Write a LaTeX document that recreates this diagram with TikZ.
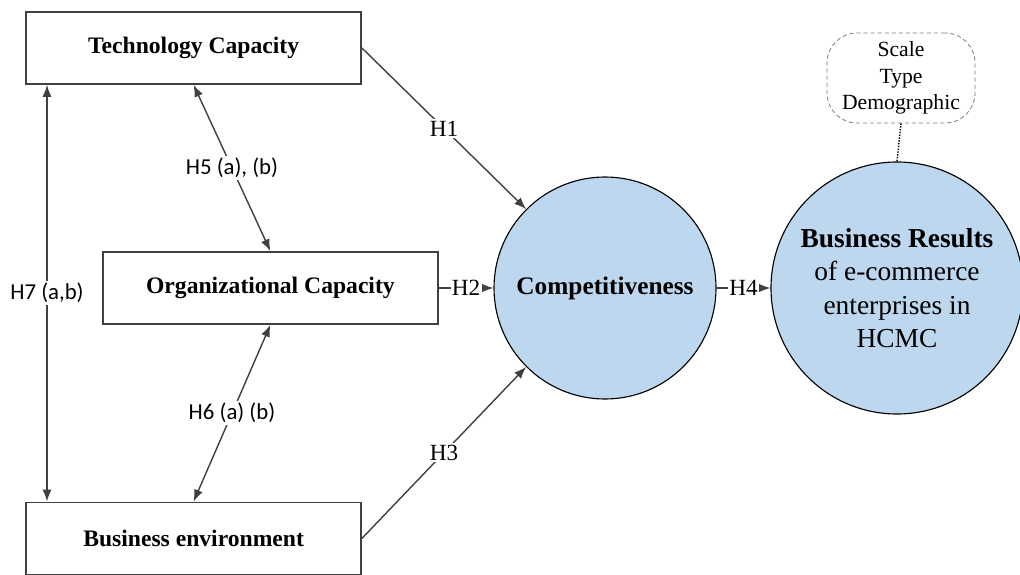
\documentclass[tikz,border=0pt]{standalone}
\usepackage{fontspec}
\setmainfont{Liberation Serif}
\newfontfamily\hfont{Carlito}
\usetikzlibrary{calc,positioning,arrows.meta}
\definecolor{bubble}{RGB}{189,215,238}
\definecolor{frame}{RGB}{64,64,64}

\begin{document}
\begin{tikzpicture}[
	factor/.style={draw=frame, line width=1.2pt, minimum width=8.375cm, minimum height=1.8cm, font=\fontsize{16.8}{20}\selectfont\bfseries},
	latent/.style={circle, draw, fill=bubble, line width=0.8pt, inner sep=0pt, align=center},
	link/.style={-{Latex[length=8.5pt,width=6.5pt]}, draw=frame, line width=1pt},
	both/.style={{Latex[length=8.5pt,width=6.5pt]}-{Latex[length=8.5pt,width=6.5pt]}},
	hyp/.style={fill=white, inner sep=1pt, font=\fontsize{16.5}{20}\selectfont},
	hypsans/.style={fill=white, inner sep=1.5pt, font=\hfont\fontsize{16.2}{20}\selectfont}
]
	\useasboundingbox (0,0) rectangle (25.5,-14.35);

	\node[factor] (tech) at (4.84,-1.2) {Technology Capacity};
	\node[factor] (org) at (6.76,-7.2) {Organizational Capacity};
	\node[factor] (env) at (4.84,-13.46) {Business environment};

	\node[latent, minimum size=5.55cm, font=\fontsize{18}{22}\selectfont\bfseries] (comp) at (15.125,-7.2) {Competitiveness};
	\node[latent, minimum size=6.3cm, font=\fontsize{19.5}{23.7}\selectfont] (res) at (22.425,-7.2) {\textbf{Business Results}\\of e-commerce\\enterprises in\\HCMC};
	\node[draw=gray, densely dashed, line width=0.6pt, rounded corners=0.75cm, minimum width=3.7cm, minimum height=2.25cm, align=center, font=\fontsize{15.4}{19}\selectfont] (ctrl) at (22.525,-1.95) {Scale\\Type\\Demographic};

	\draw[link] (tech.east) -- node[hyp] (h1) {H1} (comp.135);
	\draw[link] (org.east) -- node[hyp] (h2) {H2} (comp.west);
	\draw[link] (env.east) -- node[hyp] (h3) {H3} (comp.225);
	\draw[link] (comp.east) -- node[hyp] (h4) {H4} (res.west);

	\draw[link, both] (tech.south) -- node[hypsans] (h5) {H5 (a), (b)} (org.north);
	\draw[link, both] (org.south) -- node[hypsans] (h6) {H6 (a) (b)} (env.north);
	\coordinate (h7x) at (1.175,0);
	\draw[link, both] (h7x |- tech.south) -- node[hypsans] (h7) {H7 (a,b)} (h7x |- env.north);

	\draw[densely dotted, line width=1pt] (ctrl.south) -- (res.north);
\end{tikzpicture}
\end{document}
